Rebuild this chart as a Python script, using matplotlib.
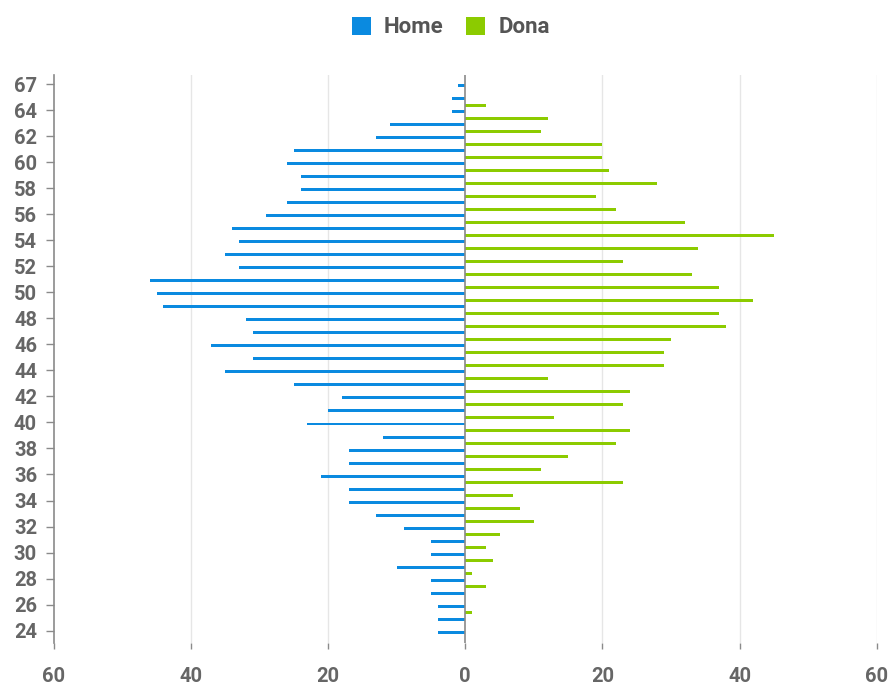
import matplotlib
matplotlib.use("Agg")
import matplotlib.pyplot as plt
from matplotlib.patches import Patch
import numpy as np

ages = [67, 65, 64, 63, 62, 61, 60, 59, 58, 57, 56, 55, 54, 53, 52, 51, 50, 49,
        48, 47, 46, 45, 44, 43, 42, 41, 40, 39, 38, 37, 36, 35, 34, 33, 32, 31,
        30, 29, 28, 27, 26, 25, 24]
home = [1, 2, 2, 11, 13, 25, 26, 24, 24, 26, 29, 34, 33, 35, 33, 46, 45, 44,
        32, 31, 37, 31, 35, 25, 18, 20, 23, 12, 17, 17, 21, 17, 17, 13, 9, 5,
        5, 10, 5, 5, 4, 4, 4]
dona = [0, 3, 12, 11, 20, 20, 21, 28, 19, 22, 32, 45, 34, 23, 33, 37, 42, 37,
        38, 30, 29, 29, 12, 24, 23, 13, 24, 22, 15, 11, 23, 7, 8, 10, 5, 3,
        4, 1, 3, 0, 1, 0, 0]
series_names = ["Home", "Dona"]
xticks = [-60, -40, -20, 0, 20, 40, 60]

BLUE = "#0A8AE0"
GREEN = "#8CCB00"
TXT = "#666666"

plt.rcParams['font.family'] = ['Roboto', 'DejaVu Sans']

fig = plt.figure(figsize=(8.91, 6.84), dpi=100)
ax = fig.add_axes([0.0603, 0.0599, 0.9237, 0.8305])

idx = np.arange(len(ages))
ax.barh(idx + 0.12, [-v for v in home], height=0.23, color=BLUE, zorder=3)
ax.barh(idx + 0.64, dona, height=0.23, color=GREEN, zorder=3)

ax.set_xlim(-60, 60)
ax.set_ylim(len(ages) - 0.05, -0.7)

for x in [-40, -20, 20, 40, 60]:
    ax.axvline(x, color="#e6e6e6", lw=1, zorder=1)
ax.axvline(0, color="#8a8a8a", lw=1.2, zorder=4)

ax.set_xticks(xticks)
ax.set_xticklabels([str(abs(t)) for t in xticks])
ax.set_yticks(idx[::2])
ax.set_yticklabels([str(a) for a in ages[::2]])

for s in ["top", "right", "bottom"]:
    ax.spines[s].set_visible(False)
ax.spines["left"].set_color("#8a8a8a")
ax.spines["left"].set_linewidth(1.2)

ax.tick_params(axis="y", length=6, width=1, color="#8a8a8a", pad=6,
               labelsize=14.5, labelcolor=TXT)
ax.tick_params(axis="x", length=4, width=1, color="#8a8a8a", pad=13,
               labelsize=14.5, labelcolor=TXT)
for lab in ax.get_xticklabels() + ax.get_yticklabels():
    lab.set_fontweight("bold")

handles = [Patch(facecolor=BLUE, edgecolor="none"),
           Patch(facecolor=GREEN, edgecolor="none")]
leg = fig.legend(handles, series_names, loc="center", bbox_to_anchor=(0.506, 0.960),
                 ncol=2, frameon=False, handlelength=0.85, handleheight=0.85,
                 handletextpad=0.6, columnspacing=1.0,
                 prop={"weight": "bold", "size": 16})
for t in leg.get_texts():
    t.set_color("#555555")

fig.savefig("out.png", dpi=100, facecolor="white")
